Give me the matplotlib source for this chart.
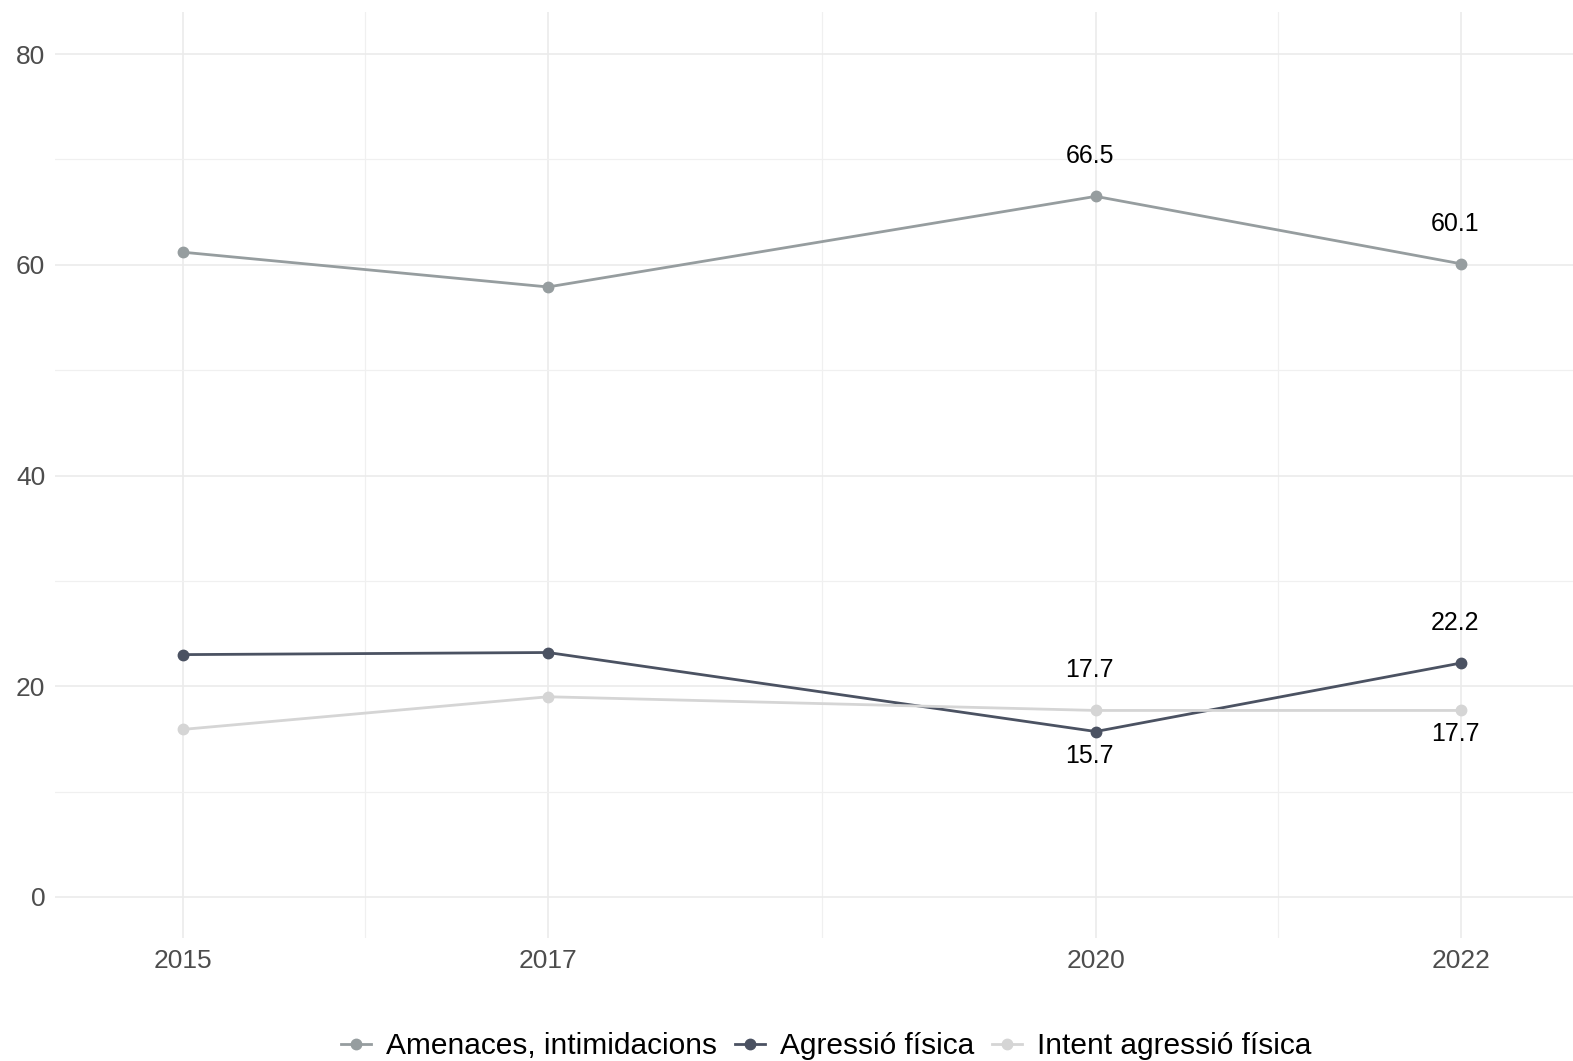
import matplotlib
matplotlib.use("Agg")
import matplotlib.pyplot as plt
from matplotlib.ticker import FixedLocator

plt.rcParams['font.family'] = ['Liberation Sans', 'DejaVu Sans']

years = [2015, 2017, 2020, 2022]
series_names = ["Amenaces, intimidacions", "Agressió física", "Intent agressió física"]
amenaces = [61.2, 57.9, 66.5, 60.1]
agressio = [23.0, 23.2, 15.7, 22.2]
intent = [15.9, 19.0, 17.7, 17.7]
colors = ["#969d9f", "#4b5262", "#d5d5d5"]
# label placement for 2020 and 2022: +1 above, -1 below
label_pos = {
    0: {2020: 1, 2022: 1},
    1: {2020: -1, 2022: 1},
    2: {2020: 1, 2022: -1},
}
y_ticks = [0, 20, 40, 60, 80]
y_minor = [10, 30, 50, 70]
x_minor = [2016, 2018.5, 2021]

W, H = 1573, 1061
fig = plt.figure(figsize=(W / 100, H / 100), dpi=100)
ax = fig.add_axes([55 / W, 1 - 938 / H, (W - 55) / W + 0.01, (938 - 12) / H])

ax.set_xlim(2014.30, 2022.70)
ax.set_ylim(-3.9, 84.0)

for s in ax.spines.values():
    s.set_visible(False)

ax.xaxis.set_major_locator(FixedLocator(years))
ax.yaxis.set_major_locator(FixedLocator(y_ticks))
ax.xaxis.set_minor_locator(FixedLocator(x_minor))
ax.yaxis.set_minor_locator(FixedLocator(y_minor))
ax.grid(which='major', color='#ebebeb', linewidth=1.2)
ax.grid(which='minor', color='#f0f0f0', linewidth=0.9)
ax.set_axisbelow(True)
ax.tick_params(which='both', length=0)
ax.tick_params(axis='x', labelsize=19, labelcolor='#4d4d4d', pad=8)
ax.tick_params(axis='y', labelsize=19, labelcolor='#4d4d4d', pad=7)

data = [amenaces, agressio, intent]
handles = []
for i, (name, vals, c) in enumerate(zip(series_names, data, colors)):
    h, = ax.plot(years, vals, '-o', color=c, lw=2.0, markersize=7.5, label=name, zorder=3)
    handles.append(h)
    for yr, v in zip(years, vals):
        if yr in label_pos[i]:
            d = label_pos[i][yr]
            off = 40 if d > 0 else -24
            ax.annotate(f"{v:.1f}", (yr, v), xytext=(-6, off), textcoords='offset pixels',
                        ha='center', va='center', fontsize=18, color='black')

fig.legend(handles=handles, labels=series_names, loc='center', ncol=3,
           bbox_to_anchor=(826 / W, 1 - 1046 / H), frameon=False, fontsize=21.5,
           handlelength=1.0, handletextpad=0.5, columnspacing=0.6)

fig.savefig("out.png", dpi=100)
